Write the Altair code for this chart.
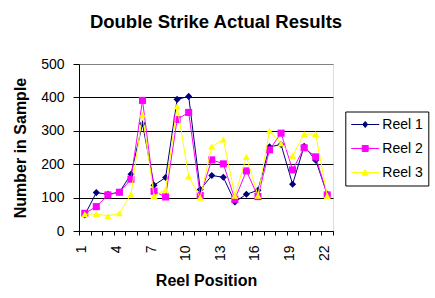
import altair as alt
import pandas as pd

positions = list(range(1, 23))
series_names = ["Reel 1", "Reel 2", "Reel 3"]
reel1 = [48, 115, 110, 116, 170, 321, 137, 160, 394, 403, 124, 166, 161, 87, 110, 122, 252, 259, 140, 254, 212, 110]
reel2 = [53, 73, 108, 116, 155, 391, 119, 102, 334, 355, 106, 213, 201, 95, 180, 103, 243, 293, 183, 249, 222, 108]
reel3 = [50, 51, 45, 53, 110, 348, 105, 124, 373, 164, 100, 253, 274, 106, 222, 106, 300, 262, 225, 290, 290, 105]
y_ticks = [0, 100, 200, 300, 400, 500]
colors = ["#000080", "#FF00FF", "#FFFF00"]
shapes = ["diamond", "square", "triangle-up"]
# legend symbols: a short line with the marker in the middle
legend_shapes = [
    "M-1.014,0H2.986M0.986,-0.43L1.343,0L0.986,0.43L0.629,0Z",
    "M-1.014,0H2.986M0.556,-0.43H1.416V0.43H0.556Z",
    "M-1.014,0H2.986M0.986,-0.43L1.416,0.4H0.556Z",
]

rows = []
for name, vals in zip(series_names, [reel1, reel2, reel3]):
    for p, v in zip(positions, vals):
        rows.append({"Reel Position": p, "Number in Sample": v, "Series": name})
df = pd.DataFrame(rows)

boundaries = [p - 0.5 for p in positions] + [positions[-1] + 0.5]
FONT = "Liberation Sans"

x_enc = alt.X(
    "Reel Position:Q",
    scale=alt.Scale(domain=[0.5, 22.5], nice=False, zero=False),
    axis=alt.Axis(
        values=boundaries, grid=False, labelAngle=270, labelOffset=2.8,
        labelExpr="(datum.value + 0.5 - 1) % 3 == 0 ? toString(datum.value + 0.5) : ''",
        labelFlush=False, labelOverlap=False, tickSize=4, labelPadding=10,
        domainColor="black", tickColor="black", labelColor="black",
        labelFont=FONT, labelFontSize=14,
        title="Reel Position", titleFont=FONT, titleFontSize=16, titleFontWeight="bold",
        titleColor="black", titleBaseline="alphabetic", titleY=54,
    ),
)
y_enc = alt.Y(
    "Number in Sample:Q",
    scale=alt.Scale(domain=[0, 500], nice=False),
    axis=alt.Axis(
        values=y_ticks, grid=True,
        gridColor={"condition": {"test": "datum.value === 500", "value": "#808080"}, "value": "black"},
        gridOpacity=1, gridWidth=1, tickSize=6, labelPadding=9,
        domainColor="black", tickColor="black", labelColor="black",
        labelFont=FONT, labelFontSize=14,
        title="Number in Sample", titleFont=FONT, titleFontSize=16, titleFontWeight="bold",
        titleColor="black", titleAngle=270, titleBaseline="alphabetic", titleX=-54,
    ),
)

legend = alt.Legend(
    title=None, orient="none", legendX=266.3, legendY=47.5,
    fillColor="white", strokeColor="black", padding=5.5,
    labelFont=FONT, labelFontSize=14, labelColor="black", labelOffset=16.5,
    symbolSize=196, rowPadding=9, symbolStrokeWidth=1, symbolOpacity=1,
)

base = alt.Chart(df)
layers = []
for name, c, s in zip(series_names, colors, shapes):
    sub = base.transform_filter(alt.datum.Series == name)
    layers.append(sub.mark_line(strokeWidth=1, color=c).encode(x=x_enc, y=y_enc))
    layers.append(sub.mark_point(filled=True, size=50, opacity=1, color=c, shape=s).encode(x=x_enc, y=y_enc))

legend_layer = base.transform_filter("false").mark_point(filled=True, size=196, strokeWidth=1, opacity=1).encode(
    x=x_enc, y=y_enc,
    fill=alt.Fill("Series:N", scale=alt.Scale(domain=series_names, range=colors), legend=legend),
    stroke=alt.Stroke("Series:N", scale=alt.Scale(domain=series_names, range=colors), legend=legend),
    shape=alt.Shape("Series:N", scale=alt.Scale(domain=series_names, range=legend_shapes), legend=legend),
)
layers.append(legend_layer)

chart = alt.layer(*layers).properties(
    width=254, height=167,
    padding={"left": 79, "top": 64, "right": 102, "bottom": 67},
    autosize=alt.AutoSizeParams(type="none"),
    title=alt.Title(
        "Double Strike Actual Results", font=FONT, fontSize=18.5, fontWeight="bold",
        color="black", anchor="middle", frame="group", baseline="alphabetic",
        offset=11, dx=10,
    ),
).configure_view(
    fill="#C0C0C0", stroke="#808080", strokeWidth=1,
).configure(background="white")

chart.save("out.html", embed_options={"renderer": "svg", "actions": False})
